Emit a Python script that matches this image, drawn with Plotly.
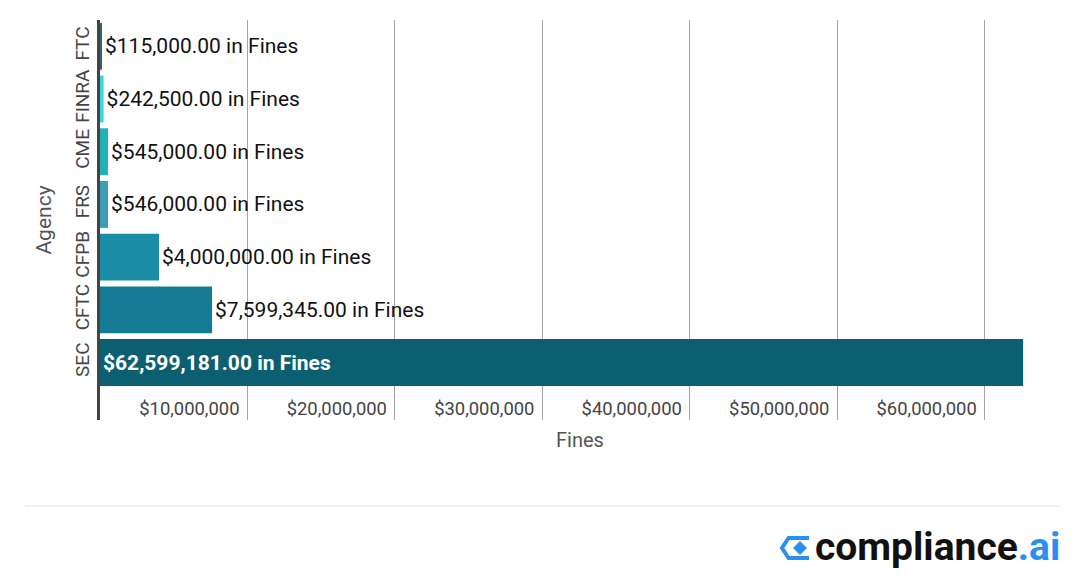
import plotly.graph_objects as go

agencies = ["FTC", "FINRA", "CME", "FRS", "CFPB", "CFTC", "SEC"]
fines = [115000.00, 242500.00, 545000.00, 546000.00, 4000000.00, 7599345.00, 62599181.00]
bar_colors = ["#3b5c6b", "#3dd6e0", "#21b1b8", "#3a9fb6", "#1a8ca6", "#157a93", "#0c5f70"]
tick_vals = [10000000, 20000000, 30000000, 40000000, 50000000, 60000000]
tick_text = ["$10,000,000", "$20,000,000", "$30,000,000", "$40,000,000", "$50,000,000", "$60,000,000"]

labels = [f"${v:,.2f} in Fines" for v in fines]
labels[-1] = f"<b>{labels[-1]}</b>"
positions = ["outside"] * (len(agencies) - 1) + ["inside"]
text_colors = ["#111111"] * (len(agencies) - 1) + ["#ffffff"]

W, H = 1092, 584
L, R, T, B = 100, 32, 20, 164

fig = go.Figure()
fig.add_trace(go.Bar(
    x=fines, y=agencies, orientation="h",
    marker=dict(color=bar_colors, line=dict(width=0)),
    text=labels, textposition=positions,
    insidetextanchor="start",
    textfont=dict(family="Roboto", size=21, color=text_colors),
    outsidetextfont=dict(family="Roboto", size=21, color="#111111"),
    insidetextfont=dict(family="Roboto", size=21, color="#ffffff"),
    constraintext="none", cliponaxis=False,
    hoverinfo="skip",
))

def px_x(p):
    return (p - L) / (W - L - R)

def px_y(p):
    return (H - B - p) / (H - T - B)

# logo icon (chevron + diamond)
icon_path = "M {} {} L {} {} L {} {} L {} {} L {} {}".format(
    px_x(809), px_y(538), px_x(788.5), px_y(538), px_x(782), px_y(548),
    px_x(788.5), px_y(558), px_x(809), px_y(558))
diamond = "M {} {} L {} {} L {} {} L {} {} Z".format(
    px_x(800), px_y(541), px_x(807), px_y(548), px_x(800), px_y(555), px_x(793), px_y(548))

fig.update_layout(
    width=W, height=H,
    margin=dict(l=L, r=R, t=T, b=B),
    paper_bgcolor="white", plot_bgcolor="white",
    showlegend=False,
    bargap=0.11,
    font=dict(family="Roboto", color="#444444"),
    xaxis=dict(
        range=[0, 65100000],
        tickvals=tick_vals, ticktext=tick_text,
        ticklabelposition="inside left",
        ticklabelshift=-8, ticklabelstandoff=-5,
        tickfont=dict(family="Roboto", size=18.4, color="#444444"),
        showgrid=True, gridcolor="#a6a6a6", gridwidth=1,
        zeroline=False, showline=False, ticks="",
        title=dict(text="Fines", font=dict(family="Roboto", size=20, color="#555555"), standoff=14),
        fixedrange=True,
    ),
    yaxis=dict(
        type="category", categoryorder="array", categoryarray=agencies,
        range=[7.09, -0.5],
        tickangle=-90,
        tickfont=dict(family="Roboto", size=19, color="#444444"),
        showline=True, linecolor="#444444", linewidth=3,
        showgrid=False, zeroline=False, ticks="",
        title=dict(text="Agency", font=dict(family="Roboto", size=21, color="#555555"), standoff=15),
        fixedrange=True,
    ),
    shapes=[
        dict(type="line", xref="paper", yref="paper",
             x0=px_x(25), x1=px_x(1060), y0=px_y(506), y1=px_y(506),
             line=dict(color="#e3e3e3", width=1)),
        dict(type="path", xref="paper", yref="paper", path=icon_path,
             line=dict(color="#2b8ff0", width=4)),
        dict(type="path", xref="paper", yref="paper", path=diamond,
             fillcolor="#2b8ff0", line=dict(color="#2b8ff0", width=0)),
    ],
    annotations=[
        dict(xref="paper", yref="paper", x=px_x(813), y=px_y(547),
             xanchor="left", yanchor="middle", showarrow=False,
             text="<b><span style='color:#111111'>compliance</span><span style='color:#2b8ff0'>.ai</span></b>",
             font=dict(family="Roboto", size=39, color="#111111")),
    ],
)

fig.write_html("out.html", config={"displayModeBar": False})
